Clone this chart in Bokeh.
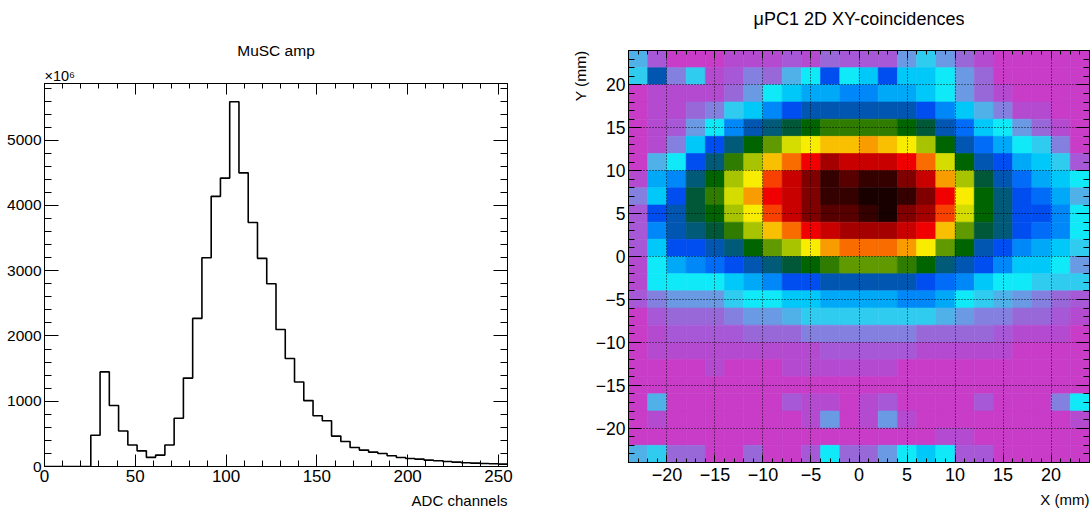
import numpy as np
from bokeh.plotting import figure
from bokeh.models import (Range1d, LinearAxis, SingleIntervalTicker, Title,
                          LinearColorMapper, ColumnDataSource, CustomJSTickFormatter)
from bokeh.embed import file_html
from bokeh.resources import INLINE
from bokeh.transform import transform

FONT = "Liberation Sans"

# ---------------- MuSC amp histogram (values in units of 10^6) ----------------
adc_lo, adc_hi, adc_nbins = 0.0, 255.0, 50
musc_counts = [0, 0, 0, 0, 0, 480, 1450, 935, 545, 330,
               240, 140, 175, 330, 740, 1355, 2270, 3200, 4140, 4420,
               5590, 4500, 3740, 3190, 2800, 2100, 1655, 1295, 1010, 778,
               700, 466, 384, 291, 251, 220, 200, 164, 138, 123,
               113, 97, 87, 77, 67, 57, 52, 46, 41, 36]
hist_x_ticks = [0, 50, 100, 150, 200, 250]
hist_y_ticks = [0, 1000, 2000, 3000, 4000, 5000]

# ---------------- uPC1 2D XY coincidences (24 x 24 bins, 2 mm) ----------------
xy_lo, xy_hi, xy_nbins = -24.0, 24.0, 24
# one list per Y bin (top row first), X bins from -24 to +24
y_p23 = [6, 2, 0, 0, 0, 1, 1, 1, 2, 1, 3, 2, 2, 2, 5, 7, 5, 3, 1, 0, 0, 0, 0, 0]
y_p21 = [7, 14, 4, 7, 1, 2, 4, 3, 6, 8, 13, 8, 9, 13, 9, 9, 8, 5, 3, 0, 0, 0, 0, 0]
y_p19 = [0, 1, 1, 1, 1, 3, 5, 8, 9, 10, 10, 11, 11, 10, 10, 9, 8, 5, 3, 1, 0, 0, 0, 0]
y_p17 = [0, 1, 1, 3, 4, 7, 9, 11, 13, 14, 14, 14, 14, 14, 14, 13, 11, 9, 6, 4, 1, 1, 0, 0]
y_p15 = [0, 1, 2, 5, 8, 11, 14, 15, 16, 17, 18, 18, 18, 18, 17, 16, 14, 12, 9, 8, 5, 3, 1, 0]
y_p13 = [0, 1, 4, 9, 13, 15, 17, 19, 21, 22, 23, 23, 24, 23, 22, 20, 17, 14, 12, 10, 8, 7, 4, 0]
y_p11 = [0, 6, 8, 13, 15, 18, 20, 23, 25, 27, 29, 28, 28, 28, 27, 25, 21, 17, 14, 13, 10, 9, 7, 2]
y_p09 = [1, 10, 11, 15, 17, 20, 22, 26, 28, 30, 32, 31, 32, 32, 30, 28, 24, 20, 16, 14, 12, 10, 9, 8]
y_p07 = [4, 9, 13, 16, 18, 21, 24, 27, 28, 30, 32, 32, 33, 33, 32, 30, 27, 22, 17, 15, 13, 12, 10, 6]
y_p05 = [2, 13, 14, 16, 17, 20, 22, 26, 28, 30, 31, 31, 32, 33, 30, 29, 26, 21, 17, 15, 13, 13, 11, 8]
y_p03 = [2, 11, 14, 15, 16, 18, 20, 23, 25, 27, 28, 29, 29, 29, 28, 27, 23, 19, 16, 15, 13, 12, 11, 8]
y_p01 = [2, 9, 13, 13, 14, 15, 17, 19, 20, 22, 24, 25, 25, 25, 24, 22, 19, 17, 14, 13, 11, 10, 9, 7]
y_m01 = [1, 8, 10, 11, 12, 13, 14, 15, 16, 17, 18, 19, 19, 19, 18, 17, 15, 14, 13, 11, 9, 9, 8, 5]
y_m03 = [1, 8, 8, 8, 8, 9, 10, 11, 13, 13, 14, 14, 14, 14, 14, 13, 12, 11, 9, 8, 8, 7, 7, 7]
y_m05 = [2, 4, 5, 5, 5, 7, 8, 8, 9, 9, 10, 10, 10, 10, 11, 11, 10, 8, 7, 6, 5, 4, 3, 2]
y_m07 = [0, 2, 3, 3, 3, 4, 5, 5, 6, 7, 7, 7, 7, 7, 7, 7, 6, 5, 4, 4, 3, 3, 2, 1]
y_m09 = [0, 1, 2, 2, 2, 2, 3, 3, 3, 4, 4, 4, 4, 4, 4, 3, 3, 3, 3, 2, 1, 1, 1, 0]
y_m11 = [0, 1, 1, 1, 1, 1, 1, 1, 1, 1, 2, 2, 2, 2, 2, 1, 1, 1, 1, 1, 0, 0, 0, 0]
y_m13 = [0, 0, 0, 0, 1, 0, 0, 0, 1, 1, 1, 1, 1, 1, 0, 0, 0, 0, 0, 0, 0, 0, 0, 0]
y_m15 = [0, 0, 0, 0, 0, 0, 0, 0, 0, 0, 0, 0, 0, 0, 0, 0, 0, 0, 0, 0, 0, 0, 0, 0]
y_m17 = [0, 6, 0, 0, 0, 0, 0, 0, 2, 1, 1, 0, 1, 2, 0, 0, 0, 0, 2, 0, 0, 0, 4, 8]
y_m19 = [0, 1, 0, 0, 0, 0, 0, 0, 0, 1, 5, 0, 1, 5, 1, 0, 0, 0, 0, 0, 0, 0, 0, 1]
y_m21 = [0, 0, 0, 0, 0, 0, 0, 0, 0, 0, 0, 0, 0, 0, 0, 0, 1, 1, 0, 0, 0, 0, 0, 0]
y_m23 = [6, 7, 3, 3, 0, 0, 3, 0, 0, 2, 8, 3, 3, 5, 8, 9, 8, 2, 2, 0, 0, 0, 0, 0]

xy_rows_top_down = [y_p23, y_p21, y_p19, y_p17, y_p15, y_p13, y_p11, y_p09,
                    y_p07, y_p05, y_p03, y_p01, y_m01, y_m03, y_m05, y_m07,
                    y_m09, y_m11, y_m13, y_m15, y_m17, y_m19, y_m21, y_m23]

PALETTE = ["#c83cc8", "#b44ad0", "#a658d6", "#9868d8", "#8480e0", "#6a9ae4",
           "#50b0e8", "#30ccf0", "#10eaf8", "#00c8f8", "#00a8f8", "#0088f8",
           "#006cf8", "#004ef0", "#0056b0", "#005a78", "#005838", "#006400",
           "#307c00", "#609a00", "#a8c400", "#d4dc00", "#f8ec00", "#f8c000",
           "#f89c00", "#f86c00", "#f84000", "#f00000", "#c80000", "#a40000",
           "#800000", "#580000", "#340000", "#180000"]


def style_axis(ax, major_in, minor_in, label_size=None, standoff=3):
    ax.major_tick_in = major_in
    ax.major_tick_out = 0
    ax.minor_tick_in = minor_in
    ax.minor_tick_out = 0
    ax.axis_line_color = "black"
    ax.major_tick_line_color = "black"
    ax.minor_tick_line_color = "black"
    ax.major_label_text_font = FONT
    if label_size is None:
        ax.major_label_text_font_size = "1px"
        ax.major_label_text_color = None
        ax.major_label_standoff = 0
    else:
        ax.major_label_text_color = "black"
        ax.major_label_text_font_size = label_size
        ax.major_label_standoff = standoff


def add_title(p, side, text, size, align, standoff, valign="bottom"):
    p.add_layout(Title(text=text, align=align, standoff=standoff, text_font=FONT,
                       text_font_size=size, text_font_style="normal",
                       vertical_align=valign, text_color="black"), side)


# ---------------- left figure ----------------
X2 = 553                      # left edge of the right figure on the page
W1, H1 = X2, 514
L1, T1, B1 = 44, 83, 48
R1 = W1 - L1 - 463

edges = np.linspace(adc_lo, adc_hi, adc_nbins + 1)
ymax = 1.05 * max(musc_counts)
p1 = figure(width=W1, height=H1, title=None, x_range=Range1d(adc_lo, adc_hi),
            y_range=Range1d(0, ymax), output_backend="svg", toolbar_location=None,
            min_border_left=L1, min_border_right=R1, min_border_top=T1, min_border_bottom=B1)
p1.grid.visible = False
p1.outline_line_color = "black"
p1.outline_line_width = 1
p1.background_fill_color = "white"
p1.border_fill_color = "white"

xt1 = SingleIntervalTicker(interval=hist_x_ticks[1] - hist_x_ticks[0], num_minor_ticks=5)
yt1 = SingleIntervalTicker(interval=hist_y_ticks[1] - hist_y_ticks[0], num_minor_ticks=5)
p1.xaxis.ticker = xt1
p1.yaxis.ticker = yt1
style_axis(p1.xaxis[0], 12, 6, "17px", 3)
style_axis(p1.yaxis[0], 14, 7, "15.5px", 3)
top1 = LinearAxis(ticker=xt1)
right1 = LinearAxis(ticker=yt1)
style_axis(top1, 11, 5)
style_axis(right1, 14, 7)
p1.add_layout(top1, "above")
p1.add_layout(right1, "right")

step_x = list(edges)
step_y = list(musc_counts) + [musc_counts[-1]]
p1.step(x=step_x, y=step_y, mode="after", line_color="black", line_width=1.6)

add_title(p1, "above", "×10⁶", "14.5px", "left", 0)
add_title(p1, "above", "MuSC amp", "15.5px", "center", 13)
add_title(p1, "below", "ADC channels", "15px", "right", 10)

# ---------------- right figure ----------------
L2, R2, T2, B2 = 628 - X2, 3, 50, 52
W2, H2 = L2 + 461 + R2, 514

p2 = figure(width=W2, height=H2, title=None, x_range=Range1d(xy_lo, xy_hi),
            y_range=Range1d(xy_lo, xy_hi), output_backend="svg", toolbar_location=None,
            min_border_left=L2, min_border_right=R2, min_border_top=T2, min_border_bottom=B2)
p2.outline_line_color = "black"
p2.outline_line_width = 1
p2.background_fill_color = "white"
p2.border_fill_color = "white"

bin_edges = np.linspace(xy_lo, xy_hi, xy_nbins + 1)
lefts, rights, bottoms, tops, zs = [], [], [], [], []
for r, vals in enumerate(xy_rows_top_down):
    j = xy_nbins - 1 - r
    for i, v in enumerate(vals):
        lefts.append(bin_edges[i]); rights.append(bin_edges[i + 1])
        bottoms.append(bin_edges[j]); tops.append(bin_edges[j + 1])
        zs.append(v)
src = ColumnDataSource(dict(left=lefts, right=rights, bottom=bottoms, top=tops, z=zs))
mapper = LinearColorMapper(palette=PALETTE, low=-0.5, high=len(PALETTE) - 0.5)
p2.quad(left="left", right="right", bottom="bottom", top="top", source=src,
        fill_color=transform("z", mapper), line_color=transform("z", mapper),
        line_width=0.6)

xt2 = SingleIntervalTicker(interval=5, num_minor_ticks=5)
yt2 = SingleIntervalTicker(interval=5, num_minor_ticks=5)
fmt = CustomJSTickFormatter(code="return tick < 0 ? '\\u2212' + Math.abs(tick) : String(tick);")
p2.xaxis.ticker = xt2
p2.yaxis.ticker = yt2
p2.xaxis.formatter = fmt
p2.yaxis.formatter = fmt
style_axis(p2.xaxis[0], 8, 4, "18px", 5)
style_axis(p2.yaxis[0], 13, 6, "17.5px", 3)
top2 = LinearAxis(ticker=xt2)
right2 = LinearAxis(ticker=yt2)
style_axis(top2, 8, 4)
style_axis(right2, 13, 6)
p2.add_layout(top2, "above")
p2.add_layout(right2, "right")

p2.xgrid.ticker = xt2
p2.ygrid.ticker = yt2
p2.grid.grid_line_color = "black"
p2.grid.grid_line_dash = "1 2"
p2.grid.grid_line_width = 1
p2.grid.grid_line_alpha = 0.9
p2.grid.level = "overlay"

add_title(p2, "above", "μPC1 2D XY-coincidences\n ", "18px", "center", 3)
add_title(p2, "left", "Y (mm)", "15.5px", "right", 8)
add_title(p2, "below", "X (mm)", "15px", "right", 10)

p1.styles = {"position": "absolute", "left": "0px", "top": "0px"}
p2.styles = {"position": "absolute", "left": f"{X2}px", "top": "0px"}

open("out.html", "w").write(file_html([p1, p2], INLINE))
